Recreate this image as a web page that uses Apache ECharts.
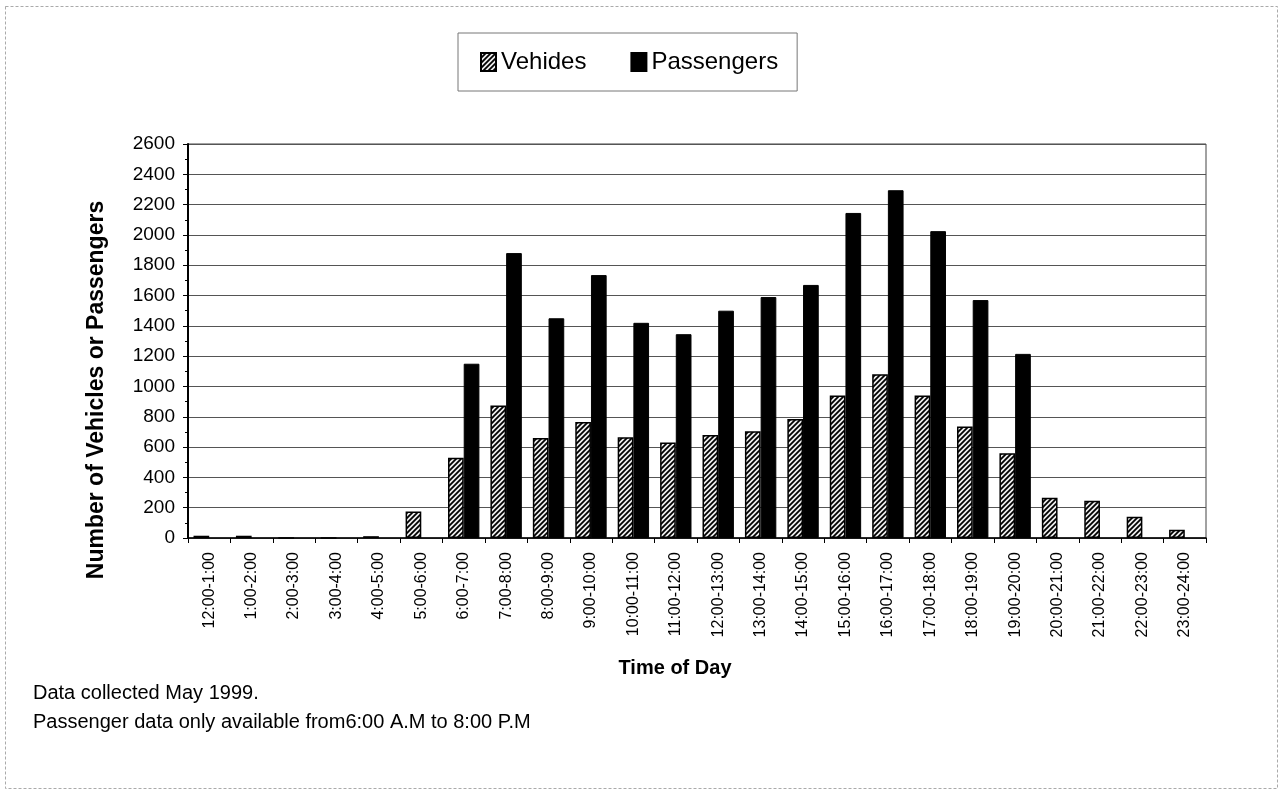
<!DOCTYPE html>
<html><head><meta charset="utf-8">
<script src="https://cdn.jsdelivr.net/npm/echarts@6/dist/echarts.min.js"></script>
<style>html,body{margin:0;padding:0;background:#fff}#c{width:1279px;height:791px}</style>
</head><body><div id="c"></div>
<script>
const categories = ['12:00-1:00','1:00-2:00','2:00-3:00','3:00-4:00','4:00-5:00','5:00-6:00','6:00-7:00','7:00-8:00','8:00-9:00','9:00-10:00','10:00-11:00','11:00-12:00','12:00-13:00','13:00-14:00','14:00-15:00','15:00-16:00','16:00-17:00','17:00-18:00','18:00-19:00','19:00-20:00','20:00-21:00','21:00-22:00','22:00-23:00','23:00-24:00'];
const vehicles = [15, 15, 0, 0, 12, 175, 530, 875, 660, 765, 665, 630, 680, 705, 785, 940, 1080, 940, 735, 560, 265, 245, 140, 55];
const passengers = [null, null, null, null, null, null, 1150, 1880, 1450, 1735, 1420, 1345, 1500, 1590, 1670, 2145, 2295, 2025, 1570, 1215, null, null, null, null];
const seriesNames = ['Vehides', 'Passengers'];
const yAxisTitle = 'Number of Vehicles or Passengers';
const xAxisTitle = 'Time of Day';
const notes = ['Data collected May 1999.', 'Passenger data only available from6:00 A.M to 8:00 P.M'];

function hatch() {
  const s = 5, c = document.createElement('canvas');
  c.width = s; c.height = s;
  const g = c.getContext('2d');
  g.fillStyle = '#eeeeee'; g.fillRect(0, 0, s, s);
  g.strokeStyle = '#000'; g.lineWidth = 1.8;
  g.beginPath();
  g.moveTo(0, s); g.lineTo(s, 0);
  g.moveTo(-1, 1); g.lineTo(1, -1);
  g.moveTo(s - 1, s + 1); g.lineTo(s + 1, s - 1);
  g.stroke();
  return c;
}
const FONT = '"Liberation Sans", Arial, sans-serif';
const chart = echarts.init(document.getElementById('c'), null, {renderer: 'canvas'});
chart.setOption({
  animation: false,
  backgroundColor: '#fff',
  textStyle: {fontFamily: FONT, color: '#000'},
  grid: {left: 188, right: 73, top: 144, bottom: 253, show: true, borderColor: '#444', borderWidth: 1},
  legend: {
    left: 458, top: 33, itemWidth: 15, itemHeight: 18, itemGap: 44, icon: 'rect',
    padding: [17, 19, 17, 22], borderColor: '#777', borderWidth: 1,
    textStyle: {fontSize: 24, fontFamily: FONT, color: '#000'},
    data: seriesNames
  },
  xAxis: {
    type: 'category', data: categories,
    axisLine: {lineStyle: {color: '#000', width: 1.5}},
    axisTick: {show: true, length: 5, lineStyle: {color: '#000'}},
    axisLabel: {rotate: 90, fontSize: 16, margin: 14, color: '#000', fontFamily: FONT, interval: 0}
  },
  yAxis: {
    type: 'value', min: 0, max: 2600, interval: 200,
    axisLine: {show: true, lineStyle: {color: '#000', width: 2}},
    axisTick: {show: true, length: 5, lineStyle: {color: '#000'}},
    minorTick: {show: true, splitNumber: 2, length: 3, lineStyle: {color: '#000'}},
    splitLine: {lineStyle: {color: '#555', width: 1}},
    axisLabel: {fontSize: 19, margin: 13, color: '#000', fontFamily: FONT, formatter: v => String(v)}
  },
  series: [
    {name: seriesNames[0], type: 'bar', data: vehicles, barGap: '0%', barCategoryGap: '26%',
     itemStyle: {color: {image: hatch(), repeat: 'repeat'}, borderColor: '#000', borderWidth: 1.5}},
    {name: seriesNames[1], type: 'bar', data: passengers,
     itemStyle: {color: '#000', borderColor: '#000', borderWidth: 1}}
  ],
  graphic: [
    {type: 'rect', left: 3, top: 4, shape: {width: 1272, height: 782}, silent: true,
     style: {fill: null, stroke: '#aaa', lineWidth: 1, lineDash: [3, 2]}},
    {type: 'text', x: 97, y: 390, rotation: Math.PI / 2, silent: true,
     style: {text: yAxisTitle, font: 'bold 23px ' + FONT, fill: '#000', textAlign: 'center', textVerticalAlign: 'middle'}},
    {type: 'text', x: 675, y: 668, silent: true,
     style: {text: xAxisTitle, font: 'bold 20px ' + FONT, fill: '#000', textAlign: 'center', textVerticalAlign: 'middle'}},
    {type: 'text', x: 33, y: 693, silent: true,
     style: {text: notes[0], font: '20px ' + FONT, fill: '#000', textAlign: 'left', textVerticalAlign: 'middle'}},
    {type: 'text', x: 33, y: 722, silent: true,
     style: {text: notes[1], font: '20px ' + FONT, fill: '#000', textAlign: 'left', textVerticalAlign: 'middle'}}
  ]
});
</script></body></html>
